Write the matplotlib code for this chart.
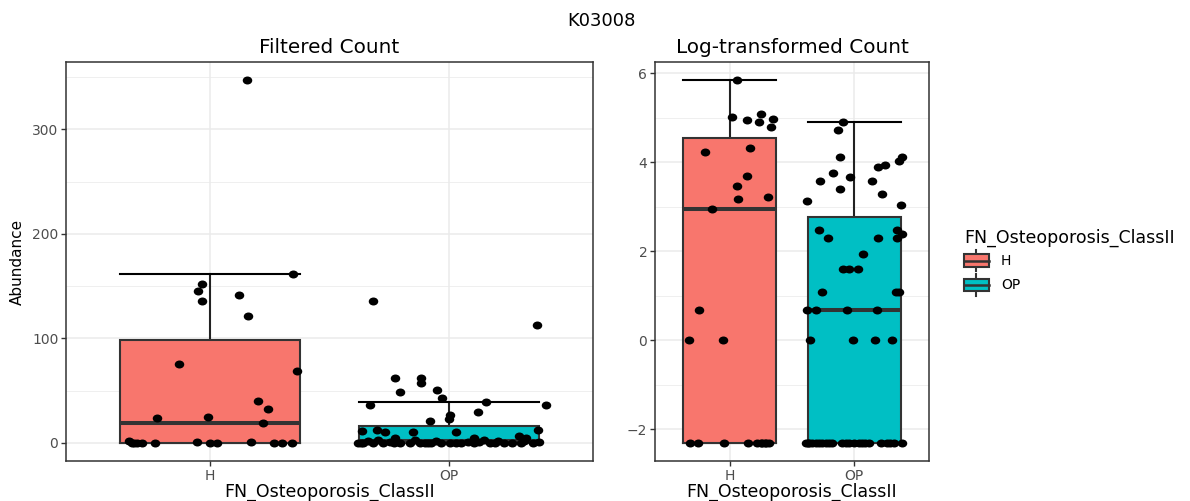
import numpy as np
import matplotlib.pyplot as plt
from matplotlib.path import Path
from matplotlib.transforms import Affine2D
from matplotlib.patches import Patch, Rectangle
from matplotlib.lines import Line2D
from matplotlib.legend_handler import HandlerBase

plt.rcParams['font.family'] = ['DejaVu Sans']

# data (counts per sample, sorted high to low)
groups = ['H', 'OP']
group_colors = ['#F8766D', '#00BFC4']

h_counts = [347, 162, 152, 145, 141, 136, 121, 75, 69, 40, 32, 25, 24, 19, 2, 1, 1,
            0, 0, 0, 0, 0, 0, 0, 0, 0, 0]
op_counts = [136, 113, 62, 62, 57, 51, 49, 43, 39, 36, 36, 30, 27, 23, 21, 12, 12, 11,
             10, 10, 10, 7, 5, 5, 5, 3, 3, 3, 2, 2, 2, 2, 1, 1, 1, 1,
             0, 0, 0, 0, 0, 0, 0, 0, 0, 0, 0, 0, 0, 0, 0, 0, 0, 0, 0, 0, 0, 0, 0]

# horizontal jitter of each point (same order as the counts), one set per panel
h_jit_raw = [0.154, 0.349, -0.033, -0.05, 0.123, -0.033, 0.158, -0.128, 0.366, 0.202,
             0.244, -0.006, -0.222, 0.224, -0.339, -0.054, 0.171,
             -0.325, -0.318, -0.304, -0.283, -0.228, 0.001, 0.029, 0.268, 0.301, 0.345]
h_jit_log = [0.056, 0.248, 0.016, 0.35, 0.142, 0.232, 0.334, 0.166, -0.202, 0.139,
             0.056, 0.307, 0.067, -0.141, -0.248, -0.33, -0.053,
             -0.317, -0.253, -0.05, 0.147, 0.222, 0.251, 0.26, 0.28, 0.29, 0.312]
op_jit_raw = [-0.317, 0.367, -0.228, -0.117, -0.117, -0.05, -0.207, -0.03, 0.155, -0.329,
              0.403, 0.12, 0.003, -0.003, -0.082, -0.303, 0.372, -0.364, -0.27, -0.15,
              0.03, 0.289, -0.225, 0.103, 0.321,
              -0.297, -0.145, 0.147, -0.339, -0.054, 0.203, 0.314, -0.249, 0.078, 0.126, 0.376,
              -0.38, -0.36, -0.318, -0.276, -0.207, -0.165, -0.124, -0.103, -0.075, -0.033,
              0.001, 0.029, 0.105, 0.168, 0.23, 0.3, -0.37, -0.23, -0.09, 0.05, 0.19, 0.26, 0.35]
op_jit_log = [-0.09, -0.13, -0.117, 0.384, 0.36, 0.248, 0.187, -0.173, -0.037, -0.272,
              0.14, -0.117, 0.222, -0.381, 0.376, -0.285, 0.347, 0.382, -0.208, 0.19,
              0.342, 0.067, -0.093, -0.045, 0.027, -0.261, 0.339, 0.358, -0.376, -0.309,
              -0.061, 0.179, -0.354, -0.008, 0.163, 0.304,
              -0.389, -0.362, -0.336, -0.282, -0.256, -0.229, -0.202, -0.176, -0.096, -0.042,
              -0.002, 0.038, 0.064, 0.118, 0.211, 0.264, 0.318, 0.384, -0.37, -0.31, -0.07,
              0.09, 0.29]


def log_count(counts):
    c = np.asarray(counts, dtype=float)
    return np.log(np.where(c > 0, c, 0.1))


W, H = 1190, 501
DOT = Path.unit_circle().transformed(Affine2D().scale(1.0, 0.84))


def draw_panel(ax, data, jits, ylim, major, minor, title):
    bp = ax.boxplot(data, positions=[1, 2], widths=0.75, capwidths=0.75,
                    patch_artist=True, showfliers=False, whis=1.5,
                    boxprops=dict(edgecolor='#333333', lw=1.5, zorder=2),
                    medianprops=dict(color='#333333', lw=2.9, zorder=2.5),
                    whiskerprops=dict(color='#222222', lw=1.5, zorder=1.8),
                    capprops=dict(color='black', lw=1.5, zorder=1.8))
    for patch, c in zip(bp['boxes'], group_colors):
        patch.set_facecolor(c)

    for pos, vals, jit in zip([1, 2], data, jits):
        ax.scatter(pos + np.asarray(jit), vals, marker=DOT, s=47,
                   color='black', lw=0, zorder=4)

    ax.set_xlim(0.4, 2.6)
    ax.set_ylim(*ylim)
    ax.set_xticks([1, 2], groups)
    ax.set_yticks(major)
    ax.set_yticks(minor, minor=True)
    ax.set_axisbelow(True)
    ax.grid(which='major', color='#EBEBEB', lw=1.1)
    ax.grid(which='minor', axis='y', color='#EBEBEB', lw=0.55)
    ax.tick_params(which='major', length=3.5, width=1.0, color='#333333',
                   labelsize=10, labelcolor='#4D4D4D', pad=2)
    ax.tick_params(which='minor', length=0)
    for s in ax.spines.values():
        s.set_color('#333333')
        s.set_linewidth(1.1)
    ax.set_title(title, fontsize=14.4, pad=6.5)


class BoxHandler(HandlerBase):
    def create_artists(self, legend, orig_handle, xdescent, ydescent,
                       width, height, fontsize, trans):
        x0, y0 = -xdescent, -ydescent
        cx = x0 + width / 2
        lo, hi = y0 + 0.21 * height, y0 + 0.79 * height
        box = Rectangle((x0, lo), width, hi - lo, facecolor=orig_handle.get_facecolor(),
                        edgecolor='#333333', lw=1.5, transform=trans)
        med = Line2D([x0, x0 + width], [y0 + height / 2] * 2, color='#333333', lw=1.8,
                     transform=trans)
        w1 = Line2D([cx, cx], [y0, lo], color='#333333', lw=1.5, transform=trans)
        w2 = Line2D([cx, cx], [hi, y0 + height], color='#333333', lw=1.5, transform=trans)
        return [w1, w2, box, med]


fig = plt.figure(figsize=(W / 100, H / 100), dpi=100)
ax1 = fig.add_axes([66 / W, 1 - 461 / H, (593 - 66) / W, (461 - 62) / H])
ax2 = fig.add_axes([655 / W, 1 - 461 / H, (929 - 655) / W, (461 - 62) / H])

draw_panel(ax1, [h_counts, op_counts], [h_jit_raw, op_jit_raw],
           (-17.35, 364.35), [0, 100, 200, 300], [50, 150, 250, 350], 'Filtered Count')
draw_panel(ax2, [log_count(h_counts), log_count(op_counts)], [h_jit_log, op_jit_log],
           (-2.711, 6.257), [-2, 0, 2, 4, 6], [-1, 1, 3, 5], 'Log-transformed Count')

fig.text(601.5 / W, 1 - 26 / H, 'K03008', ha='center', va='baseline', fontsize=13)
fig.text(329.5 / W, 1 - 496.5 / H, 'FN_Osteoporosis_ClassII', ha='center', va='baseline',
         fontsize=12.5)
fig.text(792 / W, 1 - 496.5 / H, 'FN_Osteoporosis_ClassII', ha='center', va='baseline',
         fontsize=12.5)
fig.text(17 / W, 1 - 262 / H, 'Abundance', rotation=90, ha='center', va='center',
         fontsize=11)

handles = [Patch(facecolor=c) for c in group_colors]
fig.legend(handles, groups, title='FN_Osteoporosis_ClassII', loc='upper left',
           bbox_to_anchor=(957 / W, 1 - 222 / H), frameon=False, borderpad=0,
           handler_map={Patch: BoxHandler()}, fontsize=10, title_fontsize=12.5,
           alignment='left', handlelength=1.8, handleheight=2.0,
           labelspacing=0.2, handletextpad=0.85)

fig.savefig('out.png', dpi=100)
